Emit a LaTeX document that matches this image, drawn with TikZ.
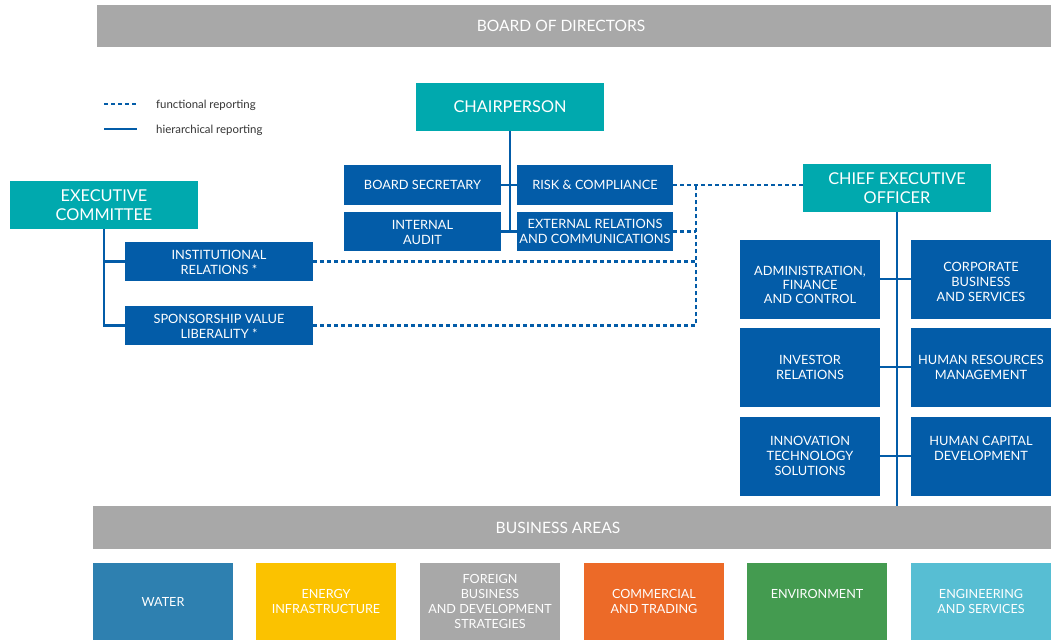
\documentclass[tikz,border=0pt]{standalone}
\usepackage{fontspec}
\setmainfont{Lato}
\definecolor{bgray}{HTML}{A8A8A8}
\definecolor{teal1}{HTML}{00A9AE}
\definecolor{blue1}{HTML}{035CA8}
\definecolor{cwater}{HTML}{2E80B0}
\definecolor{cenergy}{HTML}{FBC200}
\definecolor{ccomm}{HTML}{EC6A28}
\definecolor{cenv}{HTML}{449B50}
\definecolor{ceng}{HTML}{57BED3}
\definecolor{legtext}{HTML}{333333}
% shifted multi-line text: #1 = vertical lift, #2 = lines
\newcommand{\shtx}[2]{\raisebox{#1}[\height][\depth]{\begin{tabular}{@{}c@{}}#2\end{tabular}}}
\tikzset{
  base/.style={rectangle, inner sep=0pt, text=white, align=center},
  graybar/.style={base, fill=bgray, font=\fontsize{15.6}{18}\selectfont},
  tealbox/.style={base, fill=teal1, font=\fontsize{16.3}{19}\selectfont, minimum width=188pt, minimum height=48pt},
  bluebox/.style={base, fill=blue1, font=\fontsize{12.8}{15}\selectfont},
  areabox/.style={base, font=\fontsize{12.6}{15.2}\selectfont, minimum width=140pt, minimum height=77pt},
  hier/.style={draw=blue1, line width=2.6pt},
  func/.style={draw=blue1, line width=2.8pt, dash pattern=on 4pt off 3pt},
  legtxt/.style={anchor=west, inner sep=0pt, text=legtext, font=\fontsize{11.4}{13}\selectfont}
}
\begin{document}
\begin{tikzpicture}[x=1pt,y=-1pt]
\useasboundingbox (0,0) rectangle (1059,640);
% bars
\node[graybar, minimum width=954pt, minimum height=42pt] (bod) at (574,26) {\hspace*{-26pt}BOARD OF DIRECTORS};
\node[graybar, minimum width=958pt, minimum height=43pt] (ba) at (572,527.5) {\hspace*{-28pt}BUSINESS AREAS};
% legend
\coordinate (lf1) at (104,104); \coordinate (lf2) at (137,104);
\coordinate (lh1) at (104,129); \coordinate (lh2) at (137,129);
\draw[func] (lf1) -- (lf2);
\draw[hier] (lh1) -- (lh2);
\node[legtxt] (lfun) at (156,105.5) {functional reporting};
\node[legtxt] (lhie) at (156,130.5) {hierarchical reporting};
% chairperson group
\node[tealbox] (chair) at (510,107) {\shtx{-2pt}{CHAIRPERSON}};
\node[bluebox, minimum width=157pt, minimum height=40pt] (bs) at (422.5,185) {BOARD SECRETARY};
\node[bluebox, minimum width=156pt, minimum height=40pt] (rc) at (595,185) {RISK \& COMPLIANCE};
\node[bluebox, minimum width=157pt, minimum height=39pt] (ia) at (422.5,231.5) {\shtx{-2pt}{INTERNAL\\AUDIT}};
\node[bluebox, minimum width=156pt, minimum height=39pt] (ext) at (595,231.5) {\shtx{-1pt}{EXTERNAL RELATIONS\\AND COMMUNICATIONS}};
\draw[hier] (chair.south) -- (chair.south |- ext.west);
\draw[hier] (bs.east) -- (rc.west);
\draw[hier] (ia.east) -- (ext.west);
% executive committee
\node[tealbox] (ec) at (104,205) {EXECUTIVE\\COMMITTEE};
\node[bluebox, minimum width=188pt, minimum height=39pt] (ir) at (219,261.5) {\shtx{-2pt}{INSTITUTIONAL\\RELATIONS *}};
\node[bluebox, minimum width=188pt, minimum height=39pt] (sp) at (219,325.5) {\shtx{-2pt}{SPONSORSHIP VALUE\\LIBERALITY *}};
\draw[hier] (ec.south) |- (sp.west);
\draw[hier] (ec.south |- ir.west) -- (ir.west);
% CEO
\node[tealbox] (ceo) at (897,188) {\shtx{-2pt}{CHIEF EXECUTIVE\\OFFICER}};
\draw[hier] (ceo.south) -- (ceo.south |- ba.north);
\node[bluebox, minimum width=140pt, minimum height=79pt, font=\fontsize{12.8}{14}\selectfont] (afc) at (810,279) {\shtx{-8pt}{ADMINISTRATION,\\FINANCE\\AND CONTROL}};
\node[bluebox, minimum width=140pt, minimum height=79pt] (cbs) at (981,279) {\shtx{-4pt}{CORPORATE\\BUSINESS\\AND SERVICES}};
\node[bluebox, minimum width=140pt, minimum height=79pt] (inv) at (810,367) {\shtx{-1.5pt}{INVESTOR\\RELATIONS}};
\node[bluebox, minimum width=140pt, minimum height=79pt] (hrm) at (981,367) {HUMAN RESOURCES\\MANAGEMENT};
\node[bluebox, minimum width=140pt, minimum height=79pt] (its) at (810,456) {INNOVATION\\TECHNOLOGY\\SOLUTIONS};
\node[bluebox, minimum width=140pt, minimum height=79pt] (hcd) at (981,456) {\shtx{6pt}{HUMAN CAPITAL\\DEVELOPMENT}};
\draw[hier] (afc.east) -- (cbs.west);
\draw[hier] (inv.east) -- (hrm.west);
\draw[hier] (its.east) -- (hcd.west);
% functional reporting
\coordinate (j) at (696,185);
\draw[func] (rc.east) -- (rc.east -| ceo.west);
\draw[func] (ext.east) -- (ext.east -| j);
\draw[func] (ir.east) -- (ir.east -| j);
\draw[func] (sp.east) -| (j);
% business areas
\node[areabox, fill=cwater] (water) at (163,601.5) {WATER};
\node[areabox, fill=cenergy] (energy) at (326,601.5) {ENERGY\\INFRASTRUCTURE};
\node[areabox, fill=bgray] (foreign) at (490,601.5) {FOREIGN\\BUSINESS\\AND DEVELOPMENT\\STRATEGIES};
\node[areabox, fill=ccomm] (comm) at (654,601.5) {COMMERCIAL\\AND TRADING};
\node[areabox, fill=cenv] (env) at (817,601.5) {ENVIRONMENT\\\mbox{}};
\node[areabox, fill=ceng] (eng) at (981,601.5) {ENGINEERING\\AND SERVICES};
\end{tikzpicture}
\end{document}
